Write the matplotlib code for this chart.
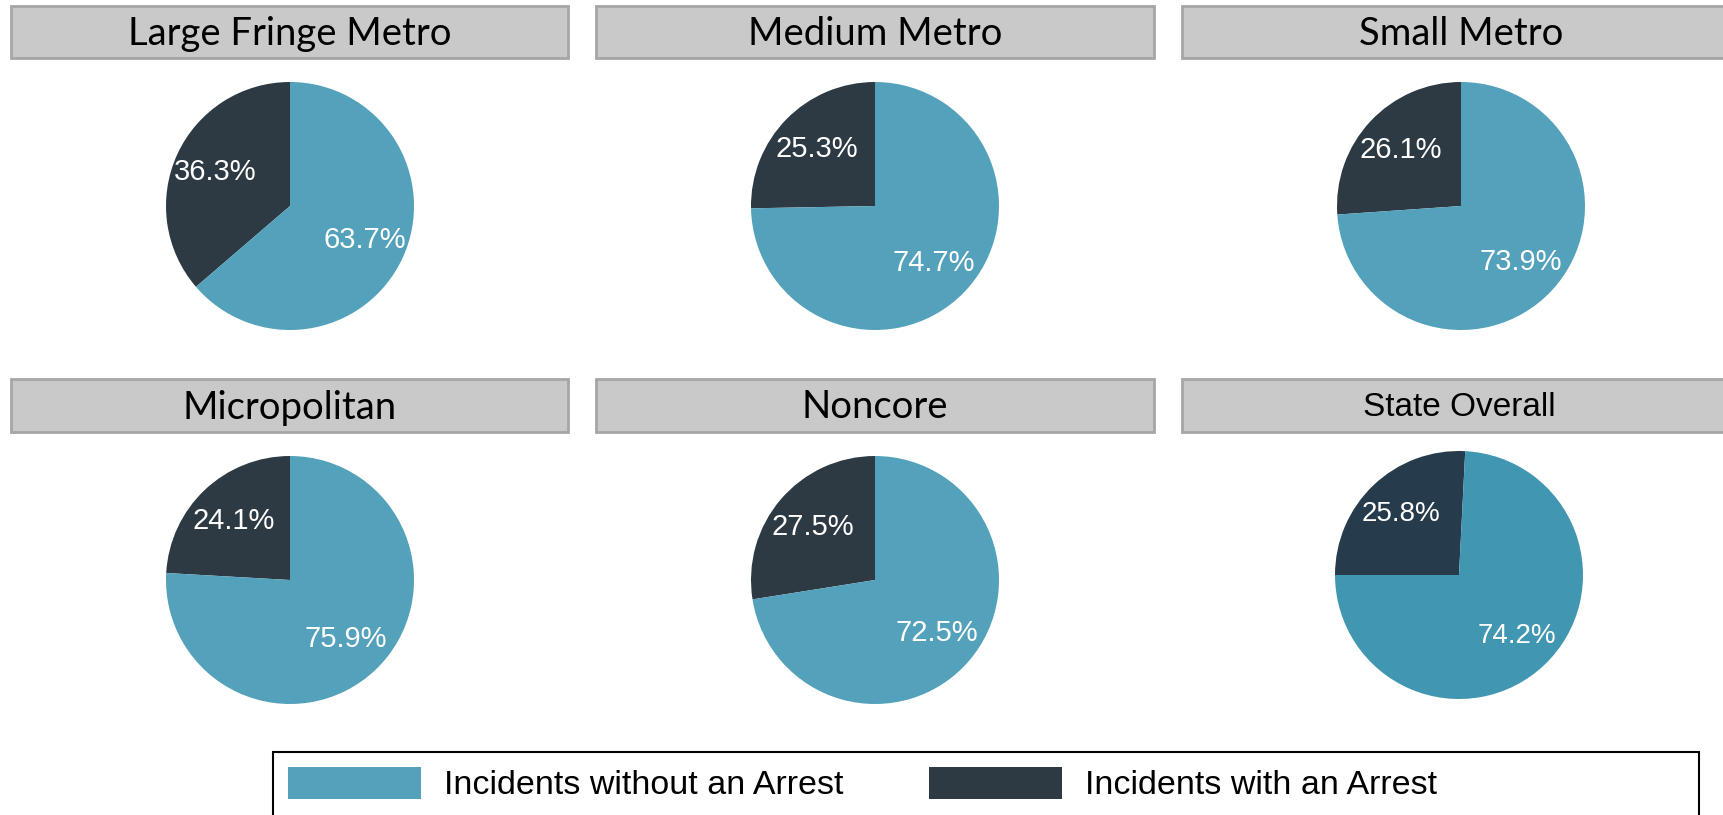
import matplotlib
matplotlib.use("Agg")
import matplotlib.pyplot as plt
from matplotlib.patches import Rectangle, Patch

# share of incidents per region type (percent)
regions = ["Large Fringe Metro", "Medium Metro", "Small Metro",
           "Micropolitan", "Noncore", "State Overall"]
with_arrest = [36.3, 25.3, 26.1, 24.1, 27.5, 25.8]
without_arrest = [63.7, 74.7, 73.9, 75.9, 72.5, 74.2]
legend_labels = ["Incidents without an Arrest", "Incidents with an Arrest"]

W, H = 1724, 815
LIGHT, DARK = "#53a1ba", "#2d3a44"
LIGHT_STATE, DARK_STATE = "#4196b2", "#263b4b"

fig = plt.figure(figsize=(W / 100, H / 100), dpi=100, facecolor="white")


def px_box(x0, y0, x1, y1):
    # pixel box (top-left origin) -> figure fraction [l, b, w, h]
    return [x0 / W, 1 - y1 / H, (x1 - x0) / W, (y1 - y0) / H]


col_x = [290, 875, 1461]
box_x = [(11, 568), (596, 1154), (1182, 1740)]
row_box_y = [(6, 58), (379, 432)]
row_pie_y = [206, 580]
R = 124

for i, name in enumerate(regions):
    r, c = divmod(i, 3)
    state = name == "State Overall"
    cx = 1459 if state else col_x[c]
    cy = 575 if state else row_pie_y[r]

    # grey header bar
    bx0, bx1 = box_x[c]
    by0, by1 = row_box_y[r]
    fig.patches.append(Rectangle((bx0 / W, 1 - by1 / H), (bx1 - bx0) / W, (by1 - by0) / H,
                                 transform=fig.transFigure, facecolor="#c9c9c9",
                                 edgecolor="#a6a6a6", linewidth=2))
    ty = 1 - ((by0 + by1) / 2 + 2) / H
    if state:
        fig.text(cx / W, ty, name, ha="center", va="center",
                 fontsize=24, family="Liberation Sans", color="black")
    else:
        fig.text(cx / W, ty, name, ha="center", va="center",
                 fontsize=27.5, family="Lato", color="black")

    ax = fig.add_axes(px_box(cx - 130, cy - 130, cx + 130, cy + 130))
    vals = [with_arrest[i], without_arrest[i]]
    if state:
        cols = [DARK_STATE, LIGHT_STATE]
        wedges, _, autotexts = ax.pie(vals, colors=cols, startangle=180, counterclock=False,
                                      radius=R / 130, autopct="%.1f%%", pctdistance=0.68,
                                      wedgeprops=dict(linewidth=0))
    else:
        cols = [DARK, LIGHT]
        wedges, _, autotexts = ax.pie(vals, colors=cols, startangle=90, counterclock=True,
                                      radius=R / 130, autopct="%.1f%%", pctdistance=0.66,
                                      wedgeprops=dict(linewidth=0))
    for t in autotexts:
        t.set_color("white")
        t.set_fontsize(20 if state else 21)
        t.set_family("Liberation Sans")
    ax.set_xlim(-1, 1)
    ax.set_ylim(-1, 1)
    ax.set_aspect("equal")
    ax.axis("off")

# legend frame runs off the bottom edge
fig.patches.append(Rectangle((273 / W, 1 - 830 / H), (1699 - 273) / W, (830 - 752) / H,
                             transform=fig.transFigure, facecolor="white",
                             edgecolor="black", linewidth=1.5))
handles = [Patch(facecolor=LIGHT, edgecolor="none"), Patch(facecolor=DARK, edgecolor="none")]
fig.legend(handles, legend_labels, loc="upper left", bbox_to_anchor=(288 / W, 1 - 767 / H),
           ncol=2, frameon=False, borderpad=0, borderaxespad=0,
           prop=dict(family="Liberation Sans", size=24.5),
           handlelength=3.9, handleheight=1.05, handletextpad=0.68, columnspacing=2.52)

fig.savefig("out.png", dpi=100, facecolor="white")
